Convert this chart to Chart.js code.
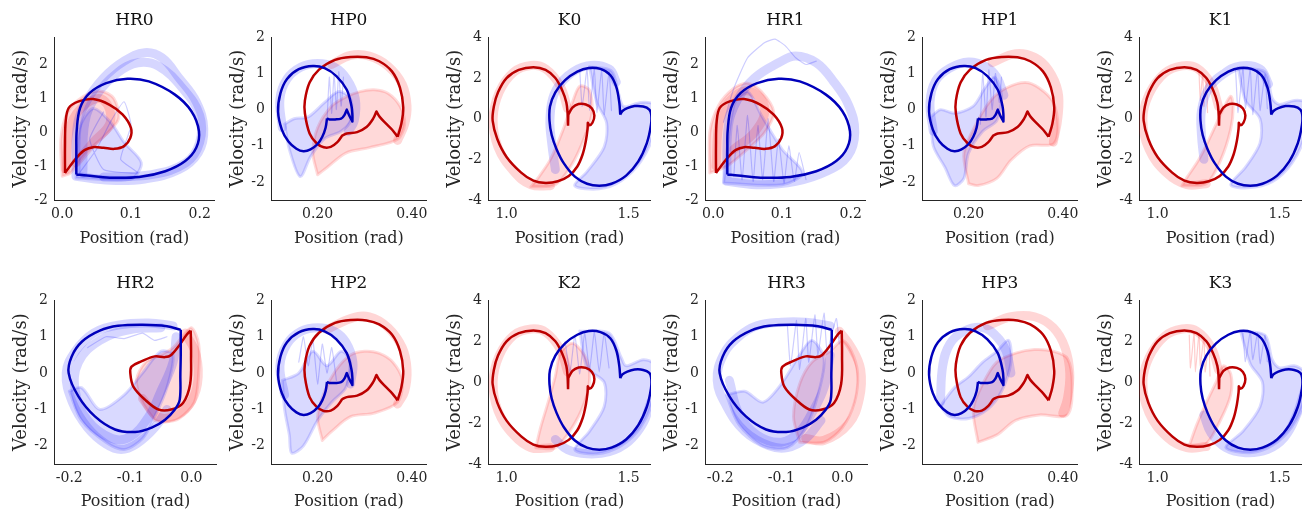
<!DOCTYPE html>
<html>
<head>
<meta charset="utf-8">
<script src="https://cdn.jsdelivr.net/npm/chart.js@4.4.1/dist/chart.umd.min.js"></script>
<style>
  body { margin: 0; background: #fff; width: 1307px; height: 515px; position: relative; overflow: hidden; }
  canvas { position: absolute; }
</style>
</head>
<body>
<script>
// ---- tick labels ----
const hrAxTicks = [0, 0.1, 0.2];
const hrAxLabels = ['0.0', '0.1', '0.2'];
const hrBxTicks = [-0.2, -0.1, 0];
const hrBxLabels = ['-0.2', '-0.1', '0.0'];
const hpxTicks = [0.2, 0.4];
const hpxLabels = ['0.20', '0.40'];
const kxTicks = [1.0, 1.5];
const kxLabels = ['1.0', '1.5'];
const vel2Ticks = [-2, -1, 0, 1, 2];
const vel2Labels = ['-2', '-1', '0', '1', '2'];
const vel4Ticks = [-4, -2, 0, 2, 4];
const vel4Labels = ['-4', '-2', '0', '2', '4'];

// ---- reference cycles (thick lines), [position, velocity] ----
const hrBlueA = [[0.0205,-1.245],[0.0205,-0.5],[0.021,0.05],[0.026,0.72],[0.04,1.16],[0.064,1.45],[0.095,1.58],[0.126,1.5],[0.164,1.11],[0.188,0.62],[0.199,0.03],[0.195,-0.46],[0.179,-0.85],[0.15,-1.15],[0.112,-1.32],[0.069,-1.34],[0.036,-1.28],[0.0205,-1.245]];
const hrRedA = [[0.004,-1.2],[0.004,-0.4],[0.005,0.32],[0.0095,0.72],[0.024,0.91],[0.045,0.98],[0.069,0.81],[0.088,0.52],[0.1,0.13],[0.099,-0.17],[0.09,-0.41],[0.076,-0.49],[0.06,-0.46],[0.045,-0.44],[0.033,-0.52],[0.021,-0.75],[0.004,-1.2]];
const hrBlueB = [[-0.0174,1.19],[-0.0174,0.5],[-0.018,0.0],[-0.019,-0.73],[-0.027,-1.0],[-0.043,-1.28],[-0.065,-1.5],[-0.092,-1.62],[-0.125,-1.55],[-0.158,-1.19],[-0.185,-0.64],[-0.201,0],[-0.196,0.46],[-0.179,0.87],[-0.15,1.17],[-0.12,1.3],[-0.08,1.33],[-0.04,1.29],[-0.0174,1.19]];
const hrRedB = [[-0.001,1.17],[-0.0005,0.5],[-0.002,-0.3],[-0.0136,-0.82],[-0.033,-1.0],[-0.054,-1.0],[-0.076,-0.73],[-0.095,-0.37],[-0.1,0],[-0.098,0.18],[-0.082,0.32],[-0.06,0.46],[-0.043,0.44],[-0.033,0.5],[-0.019,0.78],[-0.008,1.05],[-0.001,1.17]];
const hpBlue = [[0.22,-0.24],[0.217,-0.5],[0.21,-0.75],[0.2,-0.95],[0.185,-1.1],[0.17,-1.15],[0.155,-1.08],[0.138,-0.88],[0.124,-0.55],[0.116,-0.05],[0.121,0.45],[0.135,0.85],[0.16,1.12],[0.19,1.21],[0.215,1.15],[0.24,0.93],[0.262,0.55],[0.272,0.1],[0.274,-0.15],[0.274,-0.33],[0.274,-0.33],[0.268,-0.18],[0.262,0.0],[0.262,0.0],[0.257,-0.15],[0.25,-0.25],[0.237,-0.27],[0.225,-0.27],[0.22,-0.24]];
const hpRed = [[0.37,-0.75],[0.378,-0.39],[0.382,0.06],[0.375,0.61],[0.358,1.06],[0.331,1.34],[0.304,1.45],[0.271,1.46],[0.237,1.38],[0.203,1.11],[0.183,0.75],[0.173,0.25],[0.173,-0.1],[0.183,-0.66],[0.198,-0.93],[0.213,-1.04],[0.228,-1.03],[0.242,-0.9],[0.252,-0.72],[0.252,-0.72],[0.262,-0.66],[0.284,-0.62],[0.304,-0.48],[0.318,-0.25],[0.325,-0.05],[0.325,-0.05],[0.332,-0.2],[0.345,-0.38],[0.358,-0.55],[0.37,-0.75]];
const kRed = [[1.252,-0.34],[1.253,0.2],[1.253,0.2],[1.27,0.55],[1.295,0.72],[1.325,0.7],[1.35,0.5],[1.36,0.15],[1.352,-0.2],[1.34,-0.32],[1.333,-0.2],[1.333,-0.2],[1.332,-0.5],[1.325,-1.1],[1.312,-1.75],[1.29,-2.35],[1.255,-2.82],[1.21,-3.08],[1.16,-3.16],[1.11,-3.05],[1.06,-2.65],[1.0,-1.88],[0.962,-1.0],[0.943,-0.1],[0.948,0.6],[0.965,1.3],[1.0,2.0],[1.05,2.4],[1.11,2.53],[1.16,2.4],[1.2,2.0],[1.228,1.4],[1.245,0.8],[1.25,0.3],[1.252,-0.34]];
const kBlue = [[1.466,0.2],[1.462,0.8],[1.45,1.55],[1.425,2.15],[1.385,2.45],[1.337,2.5],[1.29,2.32],[1.24,1.9],[1.2,1.3],[1.178,0.6],[1.176,-0.1],[1.185,-0.8],[1.205,-1.5],[1.235,-2.2],[1.28,-2.85],[1.33,-3.2],[1.38,-3.3],[1.43,-3.2],[1.49,-2.8],[1.54,-2.1],[1.575,-1.2],[1.592,-0.3],[1.593,0.2],[1.585,0.45],[1.56,0.6],[1.525,0.62],[1.495,0.52],[1.475,0.38],[1.466,0.2]];

// ---- trial clouds (light lines) ----
const hr0BlueBand1 = [[0.02,-1.3],[0.022,0.2],[0.035,0.9],[0.06,1.6],[0.09,2.1],[0.12,2.35],[0.145,2.2],[0.17,1.6],[0.195,0.9],[0.206,0.1],[0.198,-0.6],[0.17,-1.1],[0.12,-1.38],[0.07,-1.42],[0.02,-1.3]];
const hr0BlueBand2 = [[0.03,-1.2],[0.033,0.3],[0.05,1.1],[0.08,1.75],[0.11,2.05],[0.14,1.95],[0.175,1.3],[0.2,0.5],[0.2,-0.3],[0.18,-0.9],[0.13,-1.25],[0.06,-1.32]];
const hr0BlueFill = [[0.02,-1.35],[0.1,-1.38],[0.115,-0.9],[0.09,-0.3],[0.07,0.3],[0.045,0.7],[0.025,0.1],[0.02,-1.35]];
const hr0BlueThin = [[0.025,-1.2],[0.05,-0.5],[0.07,0.3],[0.09,0.9],[0.1,0.2],[0.085,-0.8],[0.11,-1.2],[0.06,-1.1],[0.04,-0.2],[0.06,0.6]];
const hr0RedFill = [[0.0,-1.3],[-0.002,-0.2],[0.008,0.6],[0.03,1.05],[0.055,1.22],[0.075,1.0],[0.082,0.4],[0.062,-0.1],[0.035,-0.6],[0.012,-1.2],[0.0,-1.3]];
const hr0RedBand = [[0.005,-1.1],[0.012,0.2],[0.035,0.85],[0.06,0.95],[0.07,0.3],[0.045,-0.3],[0.02,-0.9]];

const hr1BlueBand1 = [[0.02,-1.45],[0.022,0.2],[0.035,0.95],[0.06,1.6],[0.095,2.05],[0.12,2.25],[0.15,2.05],[0.175,1.5],[0.197,0.8],[0.206,0.0],[0.196,-0.7],[0.165,-1.15],[0.12,-1.45],[0.07,-1.55],[0.02,-1.45]];
const hr1BlueOutlier = [[0.015,0.3],[0.03,1.3],[0.05,2.2],[0.075,2.65],[0.09,2.75],[0.105,2.55],[0.12,2.2],[0.135,2.0],[0.15,2.1]];
const hr1BlueThin = [[0.03,-1.3],[0.035,0.2],[0.042,-1.4],[0.05,0.5],[0.058,-1.45],[0.065,0.2],[0.072,-1.4],[0.08,0.4],[0.088,-1.45],[0.095,-0.2],[0.103,-1.5],[0.11,-0.4],[0.118,-1.45],[0.125,-0.6],[0.135,-1.4]];
const hr1BlueFill = [[0.015,-1.5],[0.1,-1.55],[0.13,-1.2],[0.1,-0.5],[0.07,0.5],[0.05,1.2],[0.03,0.8],[0.015,-1.5]];
const hr1RedFill = [[-0.005,-1.2],[-0.005,0.0],[0.008,0.8],[0.03,1.3],[0.05,1.45],[0.07,1.2],[0.088,0.6],[0.075,0.0],[0.05,-0.5],[0.02,-1.0],[-0.005,-1.2]];
const hr1RedBand = [[0.004,-1.0],[0.01,0.4],[0.03,1.05],[0.055,1.2],[0.075,0.7],[0.06,0.0],[0.03,-0.5]];

const hr2BlueBand1 = [[-0.03,1.3],[-0.07,1.38],[-0.12,1.32],[-0.16,1.1],[-0.19,0.6],[-0.205,0.0],[-0.195,-0.8],[-0.17,-1.5],[-0.14,-1.95],[-0.115,-2.1],[-0.09,-1.95],[-0.06,-1.5],[-0.04,-1.0]];
const hr2BlueBand2 = [[-0.05,1.25],[-0.1,1.2],[-0.15,0.9],[-0.185,0.3],[-0.19,-0.5],[-0.17,-1.3],[-0.13,-1.8],[-0.1,-1.75],[-0.07,-1.2],[-0.05,-0.5],[-0.03,0.3],[-0.025,1.0]];
const hr2BlueFill = [[-0.2,-0.5],[-0.18,-1.3],[-0.14,-1.9],[-0.11,-2.1],[-0.08,-1.8],[-0.06,-1.2],[-0.04,-0.4],[-0.03,0.5],[-0.05,0.6],[-0.08,0.0],[-0.11,-0.6],[-0.15,-1.0],[-0.18,-0.4],[-0.2,-0.5]];
const hr2BlueTop = [[-0.17,0.7],[-0.14,1.0],[-0.11,0.95],[-0.08,1.1],[-0.06,0.9],[-0.04,1.0]];
const hr2RedFill = [[-0.06,-1.3],[-0.08,-0.8],[-0.09,-0.2],[-0.075,0.3],[-0.05,0.5],[-0.03,0.7],[-0.015,1.0],[0.0,1.25],[0.012,0.8],[0.012,0.0],[0.005,-0.8],[-0.02,-1.25],[-0.045,-1.35],[-0.06,-1.3]];
const hr2RedBand = [[-0.01,1.1],[0.008,0.5],[0.01,-0.3],[-0.005,-0.9],[-0.03,-1.2],[-0.055,-1.2],[-0.08,-0.7]];

const hr3BlueBand1 = [[-0.02,1.3],[-0.06,1.4],[-0.1,1.4],[-0.14,1.3],[-0.17,1.0],[-0.195,0.5],[-0.205,-0.2],[-0.19,-0.9],[-0.16,-1.6],[-0.12,-2.0],[-0.09,-2.05],[-0.06,-1.8],[-0.035,-1.3]];
const hr3BlueBand2 = [[-0.185,-0.2],[-0.17,-1.1],[-0.14,-1.7],[-0.1,-1.9],[-0.07,-1.6],[-0.05,-1.1],[-0.03,-0.4],[-0.02,0.5]];
const hr3BlueFill = [[-0.19,-0.6],[-0.17,-1.4],[-0.13,-2.0],[-0.09,-2.05],[-0.06,-1.5],[-0.04,-0.6],[-0.03,0.4],[-0.05,0.9],[-0.07,0.5],[-0.1,-0.3],[-0.13,-0.8],[-0.16,-0.5],[-0.19,-0.6]];
const hr3BlueThin = [[-0.09,1.3],[-0.085,0.2],[-0.075,1.45],[-0.07,0.1],[-0.06,1.5],[-0.055,0.3],[-0.045,1.6],[-0.04,0.5],[-0.03,1.65],[-0.025,0.6],[-0.01,1.5],[-0.005,0.8]];
const hr3RedFill = [[-0.07,-1.9],[-0.08,-1.2],[-0.07,-0.3],[-0.05,0.3],[-0.02,0.6],[0.0,0.9],[0.015,0.6],[0.025,0.0],[0.02,-0.8],[0.0,-1.5],[-0.03,-1.9],[-0.07,-1.9]];
const hr3RedBand = [[-0.005,1.15],[0.015,0.7],[0.03,0.1],[0.028,-0.7],[0.01,-1.4],[-0.03,-1.85],[-0.06,-1.8]];

const hp0BlueBand = [[0.125,-0.5],[0.12,0.3],[0.135,0.85],[0.165,1.18],[0.2,1.28],[0.235,1.18],[0.262,0.85],[0.28,0.3],[0.278,-0.3],[0.265,-0.6]];
const hp0BlueFill = [[0.13,-0.4],[0.14,-1.1],[0.163,-1.85],[0.185,-1.3],[0.215,-0.8],[0.25,-0.6],[0.27,-0.3],[0.27,0.3],[0.245,0.5],[0.215,0.2],[0.18,-0.2],[0.15,-0.25],[0.13,-0.4]];
const hp0BlueThin = [[0.22,-0.3],[0.225,0.9],[0.23,-0.1],[0.235,1.0],[0.24,0.0],[0.245,1.05],[0.25,0.1],[0.255,0.9]];
const hp0RedBand = [[0.23,1.25],[0.27,1.5],[0.31,1.48],[0.35,1.2],[0.38,0.7],[0.39,0.1],[0.385,-0.4],[0.37,-0.85]];
const hp0RedFill = [[0.2,-1.8],[0.19,-1.2],[0.2,-0.5],[0.23,0.1],[0.26,0.35],[0.29,0.5],[0.32,0.55],[0.35,0.45],[0.375,0.1],[0.385,-0.4],[0.37,-0.82],[0.31,-1.05],[0.26,-1.2],[0.22,-1.6],[0.2,-1.8]];

const hp1BlueBand = [[0.125,-0.6],[0.118,0.2],[0.13,0.8],[0.16,1.15],[0.2,1.32],[0.235,1.2],[0.26,0.9],[0.275,0.4]];
const hp1BlueFill = [[0.12,-0.2],[0.125,-1.0],[0.15,-1.6],[0.17,-2.1],[0.19,-1.9],[0.2,-1.2],[0.23,-0.6],[0.26,-0.3],[0.27,0.4],[0.255,0.9],[0.235,0.6],[0.21,0.1],[0.17,-0.1],[0.14,0.0],[0.12,-0.2]];
const hp1BlueThin = [[0.225,-0.4],[0.23,1.0],[0.237,-0.2],[0.243,1.1],[0.25,0.0],[0.257,1.0],[0.265,0.2],[0.27,0.9]];
const hp1RedBand = [[0.25,1.3],[0.3,1.55],[0.34,1.45],[0.37,1.1],[0.39,0.5],[0.39,-0.2],[0.38,-0.9]];
const hp1RedFill = [[0.2,-2.05],[0.19,-1.2],[0.22,-0.3],[0.25,0.3],[0.28,0.6],[0.32,0.75],[0.35,0.6],[0.38,0.2],[0.39,-0.5],[0.38,-0.95],[0.33,-1.0],[0.29,-1.4],[0.26,-1.9],[0.22,-2.1],[0.2,-2.05]];

const hp2BlueBand = [[0.13,-0.6],[0.12,0.2],[0.135,0.8],[0.165,1.15],[0.2,1.25],[0.235,1.15],[0.26,0.85],[0.275,0.3],[0.27,-0.3]];
const hp2BlueFill = [[0.125,-0.2],[0.13,-1.0],[0.14,-1.7],[0.145,-2.2],[0.17,-2.0],[0.2,-1.3],[0.23,-0.8],[0.26,-0.4],[0.27,0.3],[0.25,0.6],[0.22,0.2],[0.19,0.6],[0.16,0.0],[0.125,-0.2]];
const hp2BlueThin = [[0.16,0.3],[0.17,1.0],[0.18,0.2],[0.19,0.9],[0.2,-0.3],[0.21,0.8],[0.22,0.0],[0.23,0.7],[0.24,-0.2]];
const hp2RedBand = [[0.22,1.2],[0.27,1.5],[0.31,1.55],[0.35,1.25],[0.38,0.7],[0.39,0.1],[0.385,-0.5],[0.37,-0.85]];
const hp2RedFill = [[0.21,-1.85],[0.2,-1.2],[0.215,-0.5],[0.24,0.1],[0.27,0.5],[0.3,0.6],[0.33,0.55],[0.36,0.3],[0.38,-0.2],[0.37,-0.8],[0.32,-1.1],[0.27,-1.2],[0.23,-1.6],[0.21,-1.85]];

const hp3BlueBand = [[0.14,-0.8],[0.145,0.2],[0.16,0.8],[0.19,1.15],[0.23,1.25],[0.26,1.0],[0.28,0.6],[0.29,0.0]];
const hp3BlueFill = [[0.14,-0.9],[0.16,-1.2],[0.2,-1.25],[0.24,-1.0],[0.27,-0.5],[0.29,0.3],[0.285,0.9],[0.26,0.6],[0.23,0.3],[0.2,-0.1],[0.17,-0.4],[0.14,-0.9]];
const hp3RedBand = [[0.24,1.3],[0.29,1.55],[0.34,1.55],[0.38,1.25],[0.405,0.7],[0.415,0.0],[0.41,-0.7],[0.4,-1.1]];
const hp3RedFill = [[0.22,-1.9],[0.21,-1.0],[0.23,-0.3],[0.26,0.3],[0.3,0.55],[0.34,0.65],[0.38,0.6],[0.41,0.4],[0.42,-0.3],[0.41,-1.15],[0.35,-1.15],[0.3,-1.3],[0.26,-1.7],[0.22,-1.9]];

const k0RedBand = [[1.25,0.5],[1.22,1.6],[1.16,2.45],[1.1,2.62],[1.03,2.3],[0.97,1.3],[0.945,0.0],[0.965,-1.4],[1.03,-2.6],[1.1,-3.25],[1.18,-3.3]];
const k0RedFill = [[1.1,-3.35],[1.2,-3.25],[1.27,-2.2],[1.32,-0.9],[1.35,0.3],[1.34,1.4],[1.3,1.6],[1.27,0.8],[1.23,-0.6],[1.18,-2.0],[1.13,-2.9],[1.1,-3.35]];
const k0BlueBand = [[1.2,-2.5],[1.185,-1.2],[1.178,0.0],[1.195,1.2],[1.25,2.1],[1.33,2.6],[1.42,2.45],[1.45,1.8]];
const k0BlueFill = [[1.34,2.55],[1.43,2.35],[1.46,1.2],[1.48,0.6],[1.55,0.8],[1.6,0.7],[1.6,-0.8],[1.55,-2.1],[1.47,-3.05],[1.38,-3.45],[1.28,-3.3],[1.33,-2.6],[1.4,-1.4],[1.41,-0.2],[1.37,0.8],[1.34,2.55]];
const k0BlueThin = [[1.3,2.4],[1.31,0.6],[1.33,2.45],[1.34,0.4],[1.36,2.45],[1.37,0.3],[1.39,2.4],[1.4,0.2],[1.42,2.3],[1.43,0.4]];

const k1RedBand = [[1.25,0.6],[1.22,1.7],[1.16,2.5],[1.1,2.6],[1.03,2.25],[0.965,1.2],[0.94,0.0],[0.965,-1.5],[1.04,-2.7],[1.12,-3.25],[1.2,-3.2]];
const k1RedFill = [[1.1,-3.3],[1.2,-3.2],[1.26,-2.0],[1.3,-0.5],[1.31,0.6],[1.3,1.1],[1.27,0.5],[1.22,-0.8],[1.17,-2.0],[1.12,-2.9],[1.1,-3.3]];
const k1RedThin = [[1.17,2.3],[1.175,0.9],[1.185,2.2],[1.19,0.6],[1.2,2.0],[1.205,0.3]];
const k1BlueBand = [[1.19,-2.0],[1.18,-0.8],[1.18,0.4],[1.21,1.5],[1.27,2.2],[1.34,2.6],[1.42,2.45],[1.455,1.7]];
const k1BlueFill = [[1.33,2.5],[1.44,2.3],[1.47,1.0],[1.5,0.7],[1.56,0.9],[1.6,0.8],[1.6,-0.9],[1.55,-2.2],[1.47,-3.1],[1.37,-3.4],[1.3,-3.25],[1.36,-2.4],[1.42,-1.2],[1.42,0.0],[1.36,0.9],[1.33,2.5]];
const k1BlueThin = [[1.32,2.4],[1.33,0.3],[1.35,2.5],[1.36,0.5],[1.38,2.45],[1.39,0.2],[1.41,2.4],[1.42,0.4],[1.44,2.2],[1.45,0.5]];

const k2RedBand = [[1.25,0.5],[1.22,1.6],[1.16,2.45],[1.1,2.6],[1.03,2.3],[0.97,1.3],[0.945,0.0],[0.965,-1.4],[1.03,-2.6],[1.1,-3.2],[1.18,-3.2]];
const k2RedFill = [[1.12,-3.2],[1.2,-3.2],[1.28,-2.0],[1.33,-0.6],[1.34,0.5],[1.32,1.3],[1.27,1.9],[1.22,1.4],[1.2,0.3],[1.17,-1.0],[1.14,-2.2],[1.12,-3.2]];
const k2BlueBand = [[1.2,-2.8],[1.25,-3.3],[1.33,-3.5],[1.42,-3.4],[1.5,-2.9],[1.56,-2.0],[1.59,-1.0]];
const k2BlueFill = [[1.3,2.5],[1.42,2.4],[1.47,1.2],[1.49,0.8],[1.56,1.1],[1.6,0.9],[1.6,-0.8],[1.55,-2.2],[1.47,-3.1],[1.37,-3.5],[1.28,-3.3],[1.34,-2.4],[1.4,-1.2],[1.4,0.0],[1.33,0.7],[1.3,2.5]];
const k2BlueThin = [[1.24,2.0],[1.26,0.5],[1.28,2.3],[1.3,0.4],[1.32,2.4],[1.34,0.6],[1.36,2.45],[1.38,0.5],[1.4,2.4],[1.42,0.7]];

const k3RedBand = [[1.25,0.6],[1.22,1.7],[1.16,2.5],[1.1,2.6],[1.03,2.25],[0.965,1.2],[0.94,0.0],[0.965,-1.5],[1.04,-2.7],[1.12,-3.2],[1.2,-3.15]];
const k3RedFill = [[1.13,-3.1],[1.2,-3.0],[1.26,-1.8],[1.3,-0.6],[1.3,0.4],[1.27,0.8],[1.24,0.0],[1.2,-1.0],[1.16,-2.1],[1.13,-3.1]];
const k3RedThin = [[1.13,2.3],[1.135,0.7],[1.15,2.4],[1.155,0.5],[1.17,2.4],[1.175,0.8],[1.19,2.2],[1.195,0.5],[1.21,1.9],[1.215,0.3]];
const k3BlueBand = [[1.19,-1.6],[1.22,-2.5],[1.28,-3.2],[1.36,-3.45],[1.45,-3.3],[1.52,-2.7],[1.57,-1.6],[1.6,-0.5]];
const k3BlueFill = [[1.34,2.5],[1.44,2.3],[1.47,1.1],[1.5,0.7],[1.56,0.8],[1.6,0.5],[1.6,-0.9],[1.55,-2.2],[1.47,-3.1],[1.38,-3.45],[1.28,-3.2],[1.35,-2.4],[1.42,-1.2],[1.43,0.0],[1.38,0.9],[1.34,2.5]];
const k3BlueThin = [[1.35,2.4],[1.36,1.0],[1.38,2.5],[1.39,1.1],[1.41,2.4],[1.42,0.9],[1.44,2.3],[1.45,1.0]];

const panels = [
  { title: 'HR0', ax: 'hrA', blue: hrBlueA, red: hrRedA,
    clouds: [[hr0BlueFill, 'b', 'fill'], [hr0BlueBand1, 'b', 'band'], [hr0BlueBand2, 'b', 'band'], [hr0BlueThin, 'b', 'thin'], [hr0RedFill, 'r', 'fill'], [hr0RedBand, 'r', 'band']] },
  { title: 'HP0', ax: 'hp', blue: hpBlue, red: hpRed,
    clouds: [[hp0BlueFill, 'b', 'fill'], [hp0BlueBand, 'b', 'band'], [hp0BlueThin, 'b', 'thin'], [hp0RedFill, 'r', 'fill'], [hp0RedBand, 'r', 'band']] },
  { title: 'K0', ax: 'k', blue: kBlue, red: kRed,
    clouds: [[k0BlueFill, 'b', 'fill'], [k0BlueBand, 'b', 'band'], [k0BlueThin, 'b', 'thin'], [k0RedFill, 'r', 'fill'], [k0RedBand, 'r', 'band']] },
  { title: 'HR1', ax: 'hrA', blue: hrBlueA, red: hrRedA,
    clouds: [[hr1BlueFill, 'b', 'fill'], [hr1BlueBand1, 'b', 'band'], [hr1BlueOutlier, 'b', 'thin'], [hr1BlueThin, 'b', 'thin'], [hr1RedFill, 'r', 'fill'], [hr1RedBand, 'r', 'band']] },
  { title: 'HP1', ax: 'hp', blue: hpBlue, red: hpRed,
    clouds: [[hp1BlueFill, 'b', 'fill'], [hp1BlueBand, 'b', 'band'], [hp1BlueThin, 'b', 'thin'], [hp1RedFill, 'r', 'fill'], [hp1RedBand, 'r', 'band']] },
  { title: 'K1', ax: 'k', blue: kBlue, red: kRed,
    clouds: [[k1BlueFill, 'b', 'fill'], [k1BlueBand, 'b', 'band'], [k1BlueThin, 'b', 'thin'], [k1RedFill, 'r', 'fill'], [k1RedBand, 'r', 'band'], [k1RedThin, 'r', 'thin']] },
  { title: 'HR2', ax: 'hrB', blue: hrBlueB, red: hrRedB,
    clouds: [[hr2BlueFill, 'b', 'fill'], [hr2BlueBand1, 'b', 'band'], [hr2BlueBand2, 'b', 'band'], [hr2BlueTop, 'b', 'thin'], [hr2RedFill, 'r', 'fill'], [hr2RedBand, 'r', 'band']] },
  { title: 'HP2', ax: 'hp', blue: hpBlue, red: hpRed,
    clouds: [[hp2BlueFill, 'b', 'fill'], [hp2BlueBand, 'b', 'band'], [hp2BlueThin, 'b', 'thin'], [hp2RedFill, 'r', 'fill'], [hp2RedBand, 'r', 'band']] },
  { title: 'K2', ax: 'k', blue: kBlue, red: kRed,
    clouds: [[k2BlueFill, 'b', 'fill'], [k2BlueBand, 'b', 'band'], [k2BlueThin, 'b', 'thin'], [k2RedFill, 'r', 'fill'], [k2RedBand, 'r', 'band']] },
  { title: 'HR3', ax: 'hrB', blue: hrBlueB, red: hrRedB,
    clouds: [[hr3BlueFill, 'b', 'fill'], [hr3BlueBand1, 'b', 'band'], [hr3BlueBand2, 'b', 'band'], [hr3BlueThin, 'b', 'thin'], [hr3RedFill, 'r', 'fill'], [hr3RedBand, 'r', 'band']] },
  { title: 'HP3', ax: 'hp', blue: hpBlue, red: hpRed,
    clouds: [[hp3BlueFill, 'b', 'fill'], [hp3BlueBand, 'b', 'band'], [hp3RedFill, 'r', 'fill'], [hp3RedBand, 'r', 'band']] },
  { title: 'K3', ax: 'k', blue: kBlue, red: kRed,
    clouds: [[k3BlueFill, 'b', 'fill'], [k3BlueBand, 'b', 'band'], [k3BlueThin, 'b', 'thin'], [k3RedFill, 'r', 'fill'], [k3RedBand, 'r', 'band'], [k3RedThin, 'r', 'thin']] }
];

// axis setups per joint
const axes = {
  hrA: { x: [-0.012, 0.222], xt: hrAxTicks, xl: hrAxLabels, y: [-2, 2.8], yt: vel2Ticks, yl: vel2Labels },
  hrB: { x: [-0.225, 0.042], xt: hrBxTicks, xl: hrBxLabels, y: [-2.5, 2], yt: vel2Ticks, yl: vel2Labels },
  hp:  { x: [0.101, 0.432], xt: hpxTicks, xl: hpxLabels, y: [-2.5, 2], yt: vel2Ticks, yl: vel2Labels },
  k:   { x: [0.924, 1.592], xt: kxTicks, xl: kxLabels, y: [-4, 4], yt: vel4Ticks, yl: vel4Labels }
};

Chart.defaults.font.family = '"DejaVu Serif", serif';
Chart.defaults.color = '#262626';

const pts = arr => arr.map(p => ({ x: p[0], y: p[1] }));

function cloudSet(c) {
  const [arr, col, kind] = c;
  const rgb = col === 'b' ? '0,0,255' : '255,0,0';
  const ds = { data: pts(arr), pointRadius: 0, borderJoinStyle: 'round', borderCapStyle: 'round' };
  if (kind === 'band') {
    ds.borderColor = 'rgba(' + rgb + ',0.16)';
    ds.borderWidth = 9;
    ds.tension = 0.4;
  } else if (kind === 'fill') {
    ds.borderColor = 'rgba(' + rgb + ',0.14)';
    ds.backgroundColor = 'rgba(' + rgb + ',0.15)';
    ds.borderWidth = 3;
    ds.fill = 'shape';
    ds.tension = 0.3;
  } else {
    ds.borderColor = 'rgba(' + rgb + ',0.2)';
    ds.borderWidth = 1.2;
    ds.tension = 0.15;
  }
  return ds;
}

function axisTicks(vals, labels) {
  return {
    afterBuildTicks: s => { s.ticks = vals.map(v => ({ value: v })); },
    callback: v => labels[vals.indexOf(v)]
  };
}

panels.forEach((p, i) => {
  const col = i % 6, row = Math.floor(i / 6);
  const cv = document.createElement('canvas');
  cv.width = 217; cv.height = 252;
  cv.style.left = (col * 217) + 'px';
  cv.style.top = (row === 0 ? 0 : 263) + 'px';
  document.body.appendChild(cv);

  const a = axes[p.ax];
  const xt = axisTicks(a.xt, a.xl), yt = axisTicks(a.yt, a.yl);
  const datasets = [
    { data: pts(p.blue), borderColor: '#0000bb', borderWidth: 2.5, pointRadius: 0, tension: 0.35, borderJoinStyle: 'round' },
    { data: pts(p.red), borderColor: '#bb0000', borderWidth: 2.5, pointRadius: 0, tension: 0.35, borderJoinStyle: 'round' }
  ].concat(p.clouds.map(cloudSet));

  new Chart(cv, {
    type: 'line',
    data: { datasets: datasets },
    options: {
      responsive: false,
      animation: false,
      events: [],
      layout: { padding: 0 },
      elements: { line: { capBezierPoints: false } },
      plugins: {
        legend: { display: false },
        tooltip: { enabled: false },
        title: { display: true, text: p.title, fullSize: false, color: '#111',
                 font: { size: 17, weight: 'normal' }, padding: { top: 10, bottom: 7 } }
      },
      scales: {
        x: {
          type: 'linear', min: a.x[0], max: a.x[1],
          afterFit: s => { s.height = row === 0 ? 52 : 51; },
          afterBuildTicks: xt.afterBuildTicks,
          grid: { display: false, drawTicks: false },
          border: { display: true, color: '#262626', width: 1 },
          ticks: { callback: xt.callback, font: { size: 14 }, padding: 6, maxRotation: 0, autoSkip: false },
          title: { display: true, text: 'Position (rad)', font: { size: 16 }, padding: { top: 0, bottom: 4 } }
        },
        y: {
          type: 'linear', min: a.y[0], max: a.y[1],
          afterFit: s => { s.width = 54; },
          afterBuildTicks: yt.afterBuildTicks,
          grid: { display: false, drawTicks: false },
          border: { display: true, color: '#262626', width: 1 },
          ticks: { callback: yt.callback, font: { size: 14 }, padding: 6, autoSkip: false },
          title: { display: true, text: 'Velocity (rad/s)', font: { size: 18 }, padding: { top: 11, bottom: 0 } }
        }
      }
    }
  });
});
</script>
</body>
</html>
